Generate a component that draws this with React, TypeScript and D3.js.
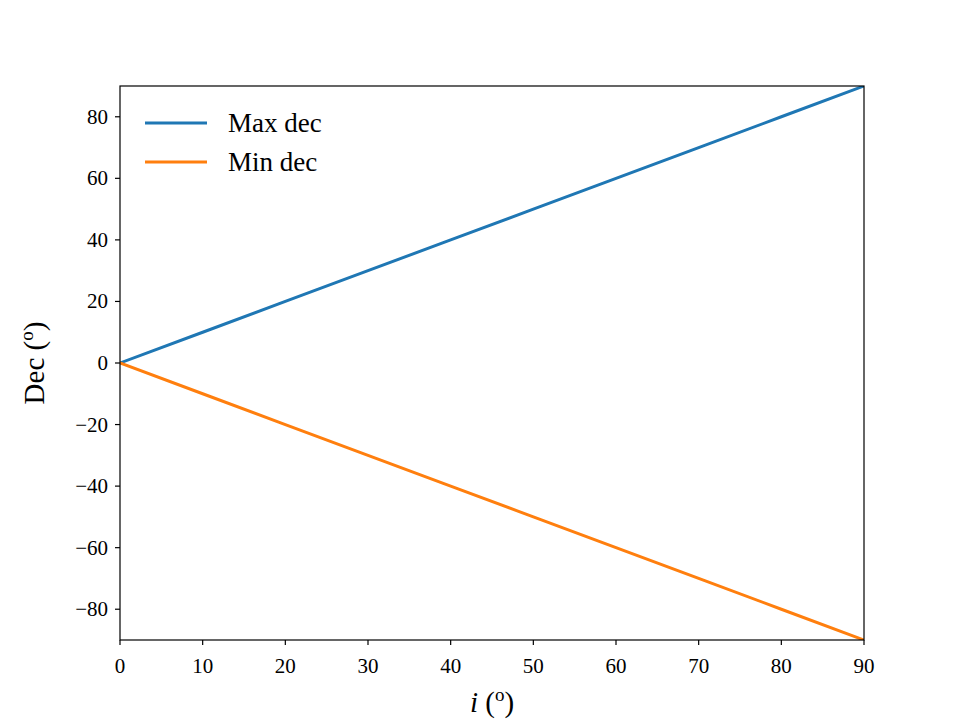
import React from "react";
import * as d3 from "d3";

const inclination = [0, 10, 20, 30, 40, 50, 60, 70, 80, 90];
const maxDec = [0, 10, 20, 30, 40, 50, 60, 70, 80, 90];
const minDec = [0, -10, -20, -30, -40, -50, -60, -70, -80, -90];
const xTicks = [0, 10, 20, 30, 40, 50, 60, 70, 80, 90];
const yTicks = [-80, -60, -40, -20, 0, 20, 40, 60, 80];
const seriesNames = ["Max dec", "Min dec"];
const colors = ["#1f77b4", "#ff7f0e"];

const W = 960, H = 720;
const L = 120, R = 864, T = 86, B = 640;
const FONT = "'Liberation Serif', 'DejaVu Serif', serif";

export default function App() {
  const x = d3.scaleLinear().domain([0, 90]).range([L, R]);
  const y = d3.scaleLinear().domain([-90, 90]).range([B, T]);
  const line = d3.line<[number, number]>().x(d => x(d[0])).y(d => y(d[1]));
  const series = [maxDec, minDec].map(vals => inclination.map((v, i) => [v, vals[i]] as [number, number]));
  const fmt = (v: number) => (v < 0 ? "\u2212" + Math.abs(v) : String(v));

  return (
    <svg width={W} height={H} style={{ position: "absolute", left: 0, top: 0, background: "#fff" }} fontFamily={FONT}>
      <rect x={0} y={0} width={W} height={H} fill="#fff" />
      <defs>
        <clipPath id="plotclip">
          <rect x={L} y={T} width={R - L} height={B - T} />
        </clipPath>
      </defs>
      <g clipPath="url(#plotclip)">
        {series.map((s, i) => (
          <path key={i} d={line(s) || ""} fill="none" stroke={colors[i]} strokeWidth={3} strokeLinecap="square" />
        ))}
      </g>
      <rect x={L} y={T} width={R - L} height={B - T} fill="none" stroke="#000" strokeWidth={1.2} />
      {xTicks.map(t => (
        <g key={"x" + t}>
          <line x1={x(t)} x2={x(t)} y1={B} y2={B + 5} stroke="#000" strokeWidth={1.2} />
          <text x={x(t)} y={673} fontSize={21} textAnchor="middle" fill="#000">{fmt(t)}</text>
        </g>
      ))}
      {yTicks.map(t => (
        <g key={"y" + t}>
          <line x1={L - 5} x2={L} y1={y(t)} y2={y(t)} stroke="#000" strokeWidth={1.2} />
          <text x={108} y={y(t) + 7} fontSize={21} textAnchor="end" fill="#000">{fmt(t)}</text>
        </g>
      ))}
      <text x={492} y={712} fontSize={29} textAnchor="middle" fill="#000">
        <tspan fontStyle="italic">i</tspan>
        <tspan> (</tspan>
        <tspan fontSize={19} dy={-11}>o</tspan>
        <tspan dy={11}>)</tspan>
      </text>
      <text transform={`translate(44, ${(T + B) / 2}) rotate(-90)`} fontSize={29} textAnchor="middle" fill="#000">
        <tspan>Dec (</tspan>
        <tspan fontSize={19} dy={-11}>o</tspan>
        <tspan dy={11}>)</tspan>
      </text>
      {seriesNames.map((n, i) => (
        <g key={n}>
          <line x1={145} x2={207} y1={123 + i * 39} y2={123 + i * 39} stroke={colors[i]} strokeWidth={3} />
          <text x={228} y={123 + i * 39 + 9} fontSize={27} fill="#000">{n}</text>
        </g>
      ))}
    </svg>
  );
}
